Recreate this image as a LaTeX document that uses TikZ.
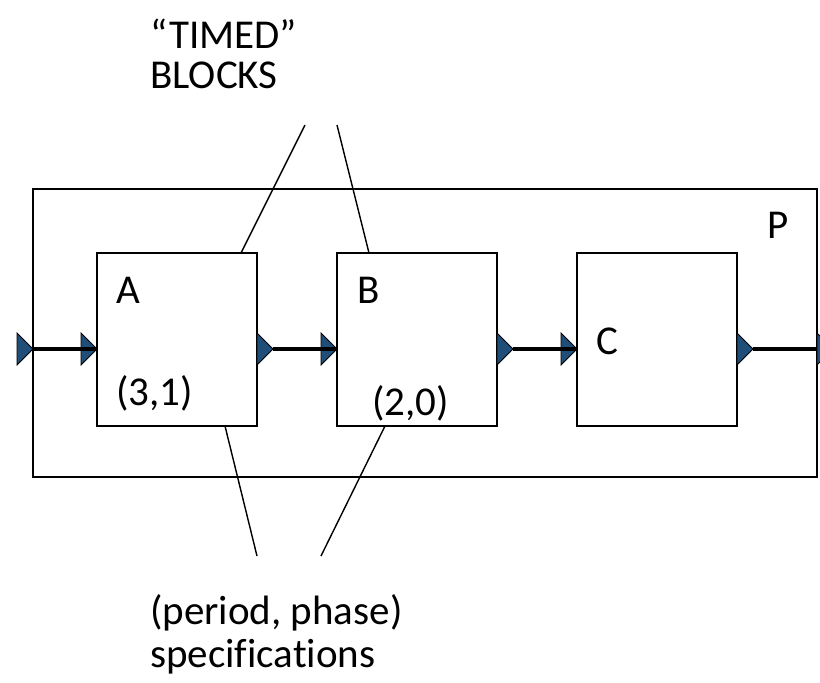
\documentclass[tikz,border=0pt]{standalone}
\usepackage{fontspec}
\setmainfont{Carlito}[Ligatures=CommonOff]
\definecolor{portblue}{RGB}{31,78,121}
\begin{document}
\begin{tikzpicture}[x=1pt,y=-1pt,
  blockbox/.style={draw, line width=2pt, minimum width=160pt, minimum height=173pt, inner sep=0pt, outer sep=0pt},
  framebox/.style={draw, line width=2.5pt, minimum width=784pt, minimum height=288pt, inner sep=0pt, outer sep=0pt},
  port/.style={fill=portblue, draw=black, line width=0.8pt},
  wire/.style={line width=3.3pt},
  pointer/.style={line width=1.4pt},
  lbl/.style={font=\fontsize{41}{48}\selectfont, inner sep=0pt, anchor=base west}]
\useasboundingbox (0,0) rectangle (820,683);
% frame and blocks
\node[framebox] (frame) at (425,333) {};
\node[blockbox] (A) at (177,339.5) {};
\node[blockbox] (B) at (417,339.5) {};
\node[blockbox] (C) at (657,339.5) {};
% port tips / bases
\coordinate (wy) at (0,349);
\coordinate (pin) at (frame.west |- wy);
\coordinate (ain) at (A.west |- wy);
\coordinate (aout) at (A.east |- wy);
\coordinate (bin) at (B.west |- wy);
\coordinate (bout) at (B.east |- wy);
\coordinate (cin) at (C.west |- wy);
\coordinate (cout) at (C.east |- wy);
\coordinate (pout) at (frame.east |- wy);
% input ports (tip on the edge)
\foreach \p in {pin,ain,bin,cin}
  \filldraw[port] ([shift={(-16,-16)}]\p) -- (\p) -- ([shift={(-16,16)}]\p) -- cycle;
% output ports (base on the edge)
\foreach \p in {aout,bout,cout,pout}
  \filldraw[port] ([shift={(0,-16)}]\p) -- ([shift={(16,0)}]\p) -- ([shift={(0,16)}]\p) -- cycle;
% wires
\draw[wire] (pin) -- (ain);
\draw[wire] ([xshift=16]aout) -- (bin);
\draw[wire] ([xshift=16]bout) -- (cin);
\draw[wire] ([xshift=16]cout) -- (pout);
% labels
\node[lbl] (Pl) at (767,238) {P};
\node[lbl] (Al) at (116,303) {A};
\node[lbl] (Bl) at (357,303) {B};
\node[lbl] (Cl) at (596,354) {C};
\node[lbl] (Aps) at (116,405) {(3,1)};
\node[lbl] (Bps) at (372,415) {(2,0)};
\node[lbl, align=left, font=\fontsize{41}{40}\selectfont] (timed) at (150,88) {“TIMED”\\BLOCKS};
\node[lbl, align=left, font=\fontsize{41}{43}\selectfont] (spec) at (150,667) {(period, phase)\\specifications};
% pointer lines
\coordinate (t1) at (305,125);
\coordinate (t2) at (337,125);
\coordinate (s1) at (257,556);
\coordinate (s2) at (321,556);
\draw[pointer] (t1) -- ([xshift=144]A.north west);
\draw[pointer] (t2) -- ([xshift=32]B.north west);
\draw[pointer] ([xshift=128]A.south west) -- (s1);
\draw[pointer] ([xshift=48]B.south west) -- (s2);
\end{tikzpicture}
\end{document}
